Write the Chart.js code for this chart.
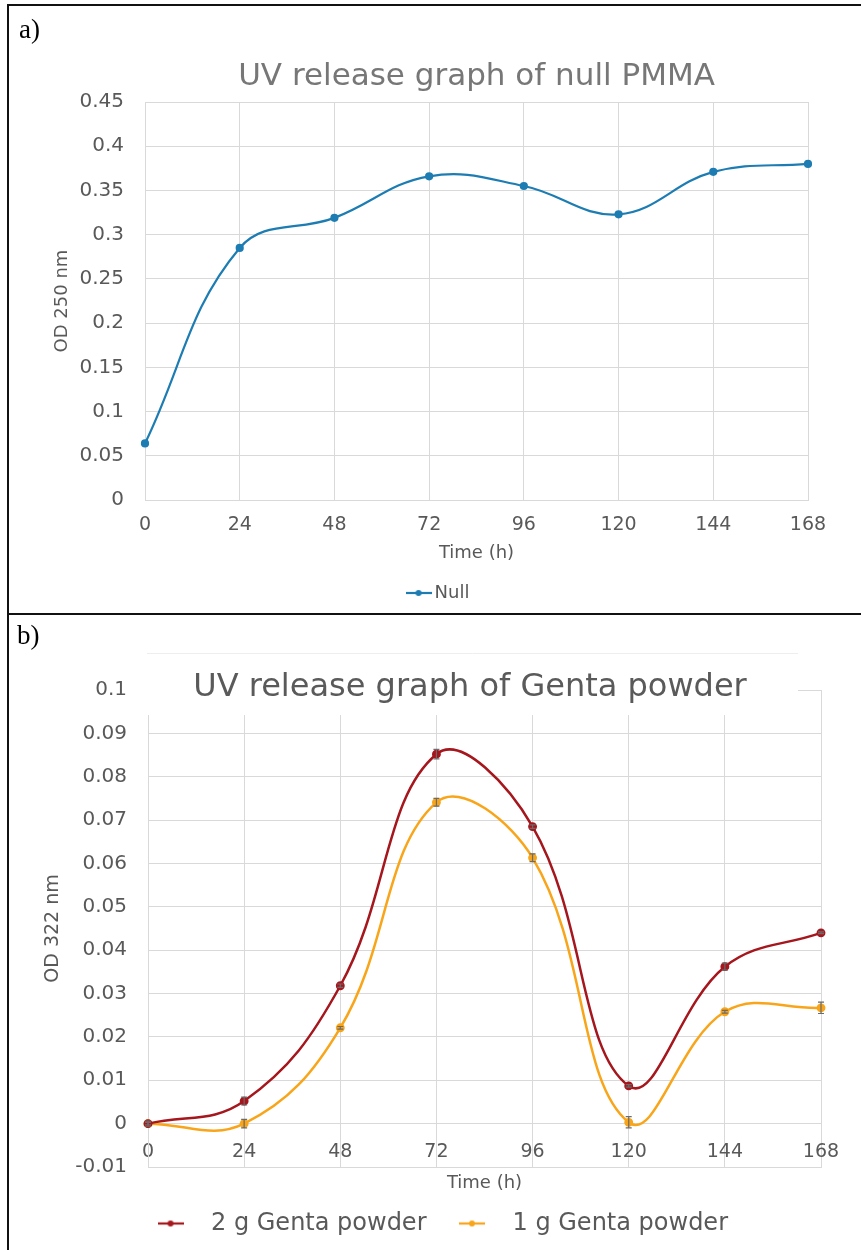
<!DOCTYPE html>
<html>
<head>
<meta charset="utf-8">
<script src="https://cdn.jsdelivr.net/npm/chart.js@4.4.1/dist/chart.umd.min.js"></script>
<style>
  html, body { margin: 0; padding: 0; background: #fff; overflow: hidden; }
  #page { position: relative; width: 861px; height: 1250px; }
  canvas { position: absolute; left: 0; }
  .rule { position: absolute; background: #111; }
  .tag { position: absolute; font-family: "Liberation Serif", "Times New Roman", serif; font-size: 27px; line-height: 1; color: #000; }
</style>
</head>
<body>
<div id="page">
  <canvas id="chartA" width="861" height="612" style="top:0"></canvas>
  <canvas id="chartB" width="861" height="634" style="top:616px"></canvas>
  <div class="rule" style="left:7px;top:4px;width:854px;height:2px"></div>
  <div class="rule" style="left:7px;top:4px;width:2px;height:1246px"></div>
  <div class="rule" style="left:7px;top:613px;width:854px;height:2px"></div>
  <div class="tag" style="left:19px;top:16px">a)</div>
  <div class="tag" style="left:17px;top:622px">b)</div>
</div>
<script>
// Sampling times (h)
const hours = ['0', '24', '48', '72', '96', '120', '144', '168'];

// a) null PMMA, OD at 250 nm
const nullPmma = [0.064, 0.285, 0.319, 0.366, 0.355, 0.323, 0.371, 0.380];

// b) Genta powder, OD at 322 nm, with error bars
const genta2g    = [0.0000, 0.0052, 0.0318, 0.0852, 0.0685, 0.0087, 0.0362, 0.0440];
const genta2gErr = [0.0003, 0.0009, 0.0004, 0.0011, 0.0004, 0.0003, 0.0008, 0.0002];
const genta1g    = [0.0000, 0.0000, 0.0221, 0.0741, 0.0613, 0.0003, 0.0258, 0.0267];
const genta1gErr = [0.0006, 0.0010, 0.0003, 0.0009, 0.0009, 0.0013, 0.0003, 0.0013];

const FONT = '"DejaVu Sans", "Noto Sans", sans-serif';
const TEXT = '#595959';
const GRID = '#d9d9d9';
const BLUE = '#1d7db3';
const RED = '#a5161d';
const ORANGE = '#f9a51a';

const fmt = v => String(+Number(v).toFixed(3));

// Legend glyph: short line with a dot in the middle
function legendMark(color) {
  const c = document.createElement('canvas');
  c.width = 26; c.height = 8;
  const g = c.getContext('2d');
  g.strokeStyle = color; g.lineWidth = 2.2;
  g.beginPath(); g.moveTo(0, 4); g.lineTo(26, 4); g.stroke();
  g.fillStyle = color;
  g.beginPath(); g.arc(13, 4, 3, 0, Math.PI * 2); g.fill();
  return c;
}

function markedLabels(marks) {
  return chart => {
    const items = Chart.defaults.plugins.legend.labels.generateLabels(chart);
    items.forEach((it, i) => { it.pointStyle = marks[i]; it.rotation = 0; it.fontColor = TEXT; });
    return items;
  };
}

// Vertical error bars with caps, placed through the y scale
const errorBars = {
  id: 'errorBars',
  afterDatasetsDraw(chart, args, opts) {
    const ctx = chart.ctx, y = chart.scales.y;
    chart.data.datasets.forEach((ds, di) => {
      if (!ds.errors) return;
      const meta = chart.getDatasetMeta(di);
      meta.data.forEach((pt, i) => {
        const v = ds.data[i], e = ds.errors[i];
        const top = y.getPixelForValue(v + e), bot = y.getPixelForValue(v - e);
        ctx.save();
        ctx.strokeStyle = opts.color || '#6b6b6b';
        ctx.lineWidth = 1.2;
        ctx.beginPath();
        ctx.moveTo(pt.x, top); ctx.lineTo(pt.x, bot);
        ctx.moveTo(pt.x - 3, top); ctx.lineTo(pt.x + 3, top);
        ctx.moveTo(pt.x - 3, bot); ctx.lineTo(pt.x + 3, bot);
        ctx.stroke();
        ctx.restore();
      });
    });
  }
};

// Title sitting on a white panel over the top of the plot
const titlePanel = {
  id: 'titlePanel',
  beforeDatasetsDraw(chart, args, o) {
    const ctx = chart.ctx;
    ctx.save();
    ctx.fillStyle = '#fff';
    ctx.fillRect(o.left, o.top, o.width, o.height);
    ctx.strokeStyle = '#eeeeee';
    ctx.lineWidth = 1;
    ctx.beginPath(); ctx.moveTo(o.left, o.top + 0.5); ctx.lineTo(o.left + o.width, o.top + 0.5); ctx.stroke();
    ctx.font = o.size + 'px ' + FONT;
    ctx.fillStyle = o.color;
    ctx.textAlign = 'center';
    ctx.textBaseline = 'middle';
    ctx.fillText(o.text, o.x, o.y);
    ctx.restore();
  }
};

// ---------- a) null PMMA ----------
new Chart(document.getElementById('chartA'), {
  type: 'line',
  data: {
    labels: hours,
    datasets: [{
      label: 'Null',
      data: nullPmma,
      borderColor: BLUE,
      backgroundColor: BLUE,
      pointBackgroundColor: BLUE,
      pointBorderColor: BLUE,
      borderWidth: 2.2,
      pointRadius: 3,
      tension: 0.4
    }]
  },
  options: {
    responsive: false,
    animation: false,
    layout: { padding: { left: 73, right: 53, top: 0, bottom: 0 } },
    plugins: {
      tooltip: { enabled: false },
      title: {
        display: true,
        text: 'UV release graph of null PMMA',
        fullSize: false,
        color: '#777777',
        font: { family: FONT, size: 31, weight: 'normal' },
        padding: { top: 58, bottom: 6.8 }
      },
      legend: {
        position: 'bottom',
        labels: {
          usePointStyle: true,
          pointStyleWidth: 14,
          boxWidth: 14,
          padding: 10,
          color: TEXT,
          font: { family: FONT, size: 18 },
          generateLabels: markedLabels([legendMark(BLUE)])
        }
      }
    },
    scales: {
      x: {
        grid: { color: GRID, drawTicks: false },
        border: { color: GRID },
        ticks: { color: TEXT, font: { family: FONT, size: 19 }, padding: 14, maxRotation: 0 },
        title: { display: true, text: 'Time (h)', color: TEXT, font: { family: FONT, size: 18 }, padding: { top: 0, bottom: 10.2 } },
        afterFit: s => { s.height = 74; }
      },
      y: {
        min: 0, max: 0.45,
        grid: { color: GRID, drawTicks: false },
        border: { color: GRID },
        ticks: { stepSize: 0.05, color: TEXT, font: { family: FONT, size: 20 }, padding: 21, callback: fmt },
        title: { display: true, text: 'OD 250 nm', color: TEXT, font: { family: FONT, size: 18 }, padding: { top: -21.8, bottom: 0 } },
        afterFit: s => { s.width = 72; }
      }
    }
  }
});

// ---------- b) Genta powder ----------
new Chart(document.getElementById('chartB'), {
  type: 'line',
  data: {
    labels: hours,
    datasets: [{
      label: '2 g Genta powder',
      data: genta2g,
      errors: genta2gErr,
      borderColor: RED,
      backgroundColor: RED,
      pointBackgroundColor: RED,
      pointBorderColor: RED,
      borderWidth: 2.5,
      pointRadius: 3.2,
      tension: 0.4
    }, {
      label: '1 g Genta powder',
      data: genta1g,
      errors: genta1gErr,
      borderColor: ORANGE,
      backgroundColor: ORANGE,
      pointBackgroundColor: ORANGE,
      pointBorderColor: ORANGE,
      borderWidth: 2.5,
      pointRadius: 3.2,
      tension: 0.4
    }]
  },
  options: {
    responsive: false,
    animation: false,
    layout: { padding: { left: 49, right: 40, top: 74, bottom: 4.5 } },
    plugins: {
      tooltip: { enabled: false },
      title: { display: false },
      titlePanel: {
        text: 'UV release graph of Genta powder',
        size: 32, color: '#5a5a5a',
        x: 470, y: 72,
        left: 147, top: 37, width: 651, height: 62
      },
      errorBars: { color: '#6b6b6b' },
      legend: {
        position: 'bottom',
        labels: {
          usePointStyle: true,
          pointStyleWidth: 57,
          boxWidth: 57,
          padding: 17,
          color: TEXT,
          font: { family: FONT, size: 24 },
          generateLabels: markedLabels([legendMark(RED), legendMark(ORANGE)])
        }
      }
    },
    scales: {
      x: {
        grid: { color: GRID, drawTicks: false },
        border: { color: GRID },
        // labels sit just under the zero line, inside the plot
        ticks: { color: TEXT, font: { family: FONT, size: 19 }, mirror: true, padding: 3.6, maxRotation: 0 },
        title: { display: true, text: 'Time (h)', color: TEXT, font: { family: FONT, size: 18 }, padding: { top: 0, bottom: 0.7 } },
        afterFit: s => { s.height = 27.5; }
      },
      y: {
        min: -0.01, max: 0.1,
        grid: { color: GRID, drawTicks: false },
        border: { color: GRID },
        ticks: { stepSize: 0.01, color: TEXT, font: { family: FONT, size: 20 }, padding: 21, callback: fmt },
        title: { display: true, text: 'OD 322 nm', color: TEXT, font: { family: FONT, size: 19 }, padding: { top: -7.4, bottom: 0 } },
        afterFit: s => { s.width = 99; }
      }
    }
  },
  plugins: [titlePanel, errorBars]
});
</script>
</body>
</html>
